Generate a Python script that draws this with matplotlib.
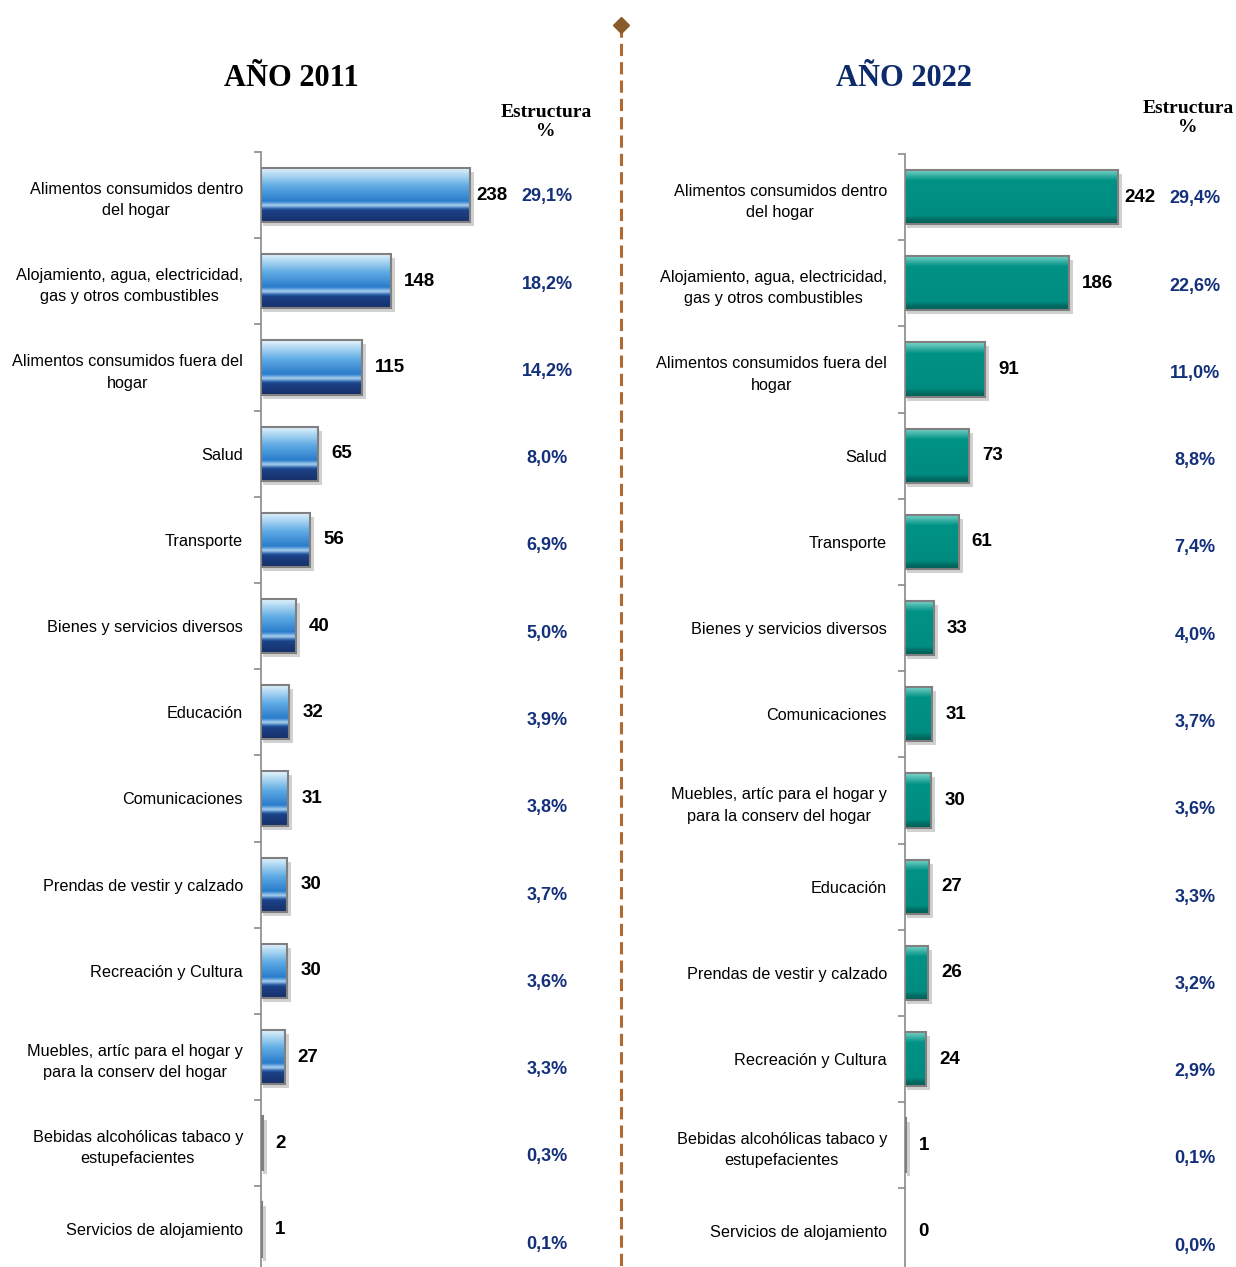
import numpy as np
import matplotlib.pyplot as plt
from matplotlib.patches import Rectangle
from matplotlib.lines import Line2D
from matplotlib.colors import LinearSegmentedColormap
import matplotlib.transforms as mtransforms

plt.rcParams['font.family'] = ['Liberation Sans', 'DejaVu Sans']

cats_2011 = ['Alimentos consumidos dentro\ndel hogar',
             'Alojamiento, agua, electricidad,\ngas y otros combustibles',
             'Alimentos consumidos fuera del\nhogar',
             'Salud', 'Transporte', 'Bienes y servicios diversos',
             'Educación', 'Comunicaciones', 'Prendas de vestir y calzado',
             'Recreación y Cultura',
             'Muebles, artíc para el hogar y\npara la conserv del hogar',
             'Bebidas alcohólicas tabaco y\nestupefacientes',
             'Servicios de alojamiento']
vals_2011 = [238, 148, 115, 65, 56, 40, 32, 31, 30, 30, 27, 2, 1]
pct_2011 = ['29,1%', '18,2%', '14,2%', '8,0%', '6,9%', '5,0%', '3,9%',
            '3,8%', '3,7%', '3,6%', '3,3%', '0,3%', '0,1%']

cats_2022 = ['Alimentos consumidos dentro\ndel hogar',
             'Alojamiento, agua, electricidad,\ngas y otros combustibles',
             'Alimentos consumidos fuera del\nhogar',
             'Salud', 'Transporte', 'Bienes y servicios diversos',
             'Comunicaciones',
             'Muebles, artíc para el hogar y\npara la conserv del hogar',
             'Educación', 'Prendas de vestir y calzado',
             'Recreación y Cultura',
             'Bebidas alcohólicas tabaco y\nestupefacientes',
             'Servicios de alojamiento']
vals_2022 = [242, 186, 91, 73, 61, 33, 31, 30, 27, 26, 24, 1, 0]
pct_2022 = ['29,4%', '22,6%', '11,0%', '8,8%', '7,4%', '4,0%', '3,7%',
            '3,6%', '3,3%', '3,2%', '2,9%', '0,1%', '0,0%']

W, H = 1236, 1267
PX_PER_UNIT = 0.88
STEP = 86.2
NAVY = '#14307a'

blue_cm = LinearSegmentedColormap.from_list('blue', [
    (0.0, '#e8f5fd'), (0.12, '#b4dbf4'), (0.35, '#5eaae4'), (0.62, '#2a7dcb'),
    (0.70, '#a8d0ef'), (0.76, '#2c62a8'), (0.80, '#1b4186'), (1.0, '#17306a')])
teal_cm = LinearSegmentedColormap.from_list('teal', [
    (0.0, '#7dd6cc'), (0.12, '#33aca0'), (0.2, '#009286'),
    (0.85, '#008c80'), (0.92, '#007067'), (1.0, '#005c54')])

fig = plt.figure(figsize=(W / 100, H / 100), dpi=100)


def draw_panel(left_px, top_px, width_px, cats, vals, pcts, cmap, pct_x_px):
    n = len(cats)
    height_px = n * STEP
    ax = fig.add_axes([left_px / W, 1 - (top_px + height_px) / H,
                       width_px / W, height_px / H])
    xmax = width_px / PX_PER_UNIT
    h = 0.63
    grad = np.linspace(0, 1, 64).reshape(-1, 1)
    dx = 4 / PX_PER_UNIT
    dy = 4 / STEP
    for i, v in enumerate(vals):
        off = 6 if v == max(vals) else 13
        ax.annotate(str(v), (v, i), xytext=(off / 100 * 72, 0),
                    textcoords='offset points', ha='left', va='center',
                    fontsize=13.5, fontweight='bold', color='black')
        if v <= 0:
            continue
        # shadow
        ax.add_patch(Rectangle((dx * 0.6, i - h / 2 + dy), v + dx * 0.4, h,
                               facecolor='#000000', alpha=0.18, lw=0, zorder=1))
        ax.imshow(grad, cmap=cmap, extent=(0, v, i + h / 2, i - h / 2),
                  aspect='auto', interpolation='bilinear', zorder=2)
        ax.add_patch(Rectangle((0, i - h / 2), v, h, facecolor='none',
                               edgecolor='#808080', lw=1.5, zorder=3))
    trans = mtransforms.blended_transform_factory(fig.transFigure, ax.transData)
    for i, p in enumerate(pcts):
        ax.text(pct_x_px / W, i + 0.0125 * i + 0.02, p, transform=trans,
                ha='center', va='center', fontsize=13, fontweight='bold',
                color=NAVY)
    ax.set_xlim(0, xmax)
    ax.set_ylim(n - 0.5, -0.5)
    ax.set_yticks(range(n))
    ax.set_yticklabels(cats, fontsize=11.7)
    for lab in ax.get_yticklabels():
        lab.set_multialignment('center')
        lab.set_linespacing(1.55)
    ax.set_yticks(np.arange(-0.5, n, 1), minor=True)
    ax.tick_params(axis='y', which='major', length=0, pad=13)
    ax.tick_params(axis='y', which='minor', length=5, color='#8a8a8a',
                   width=1.2)
    ax.set_xticks([])
    for s in ['top', 'right', 'bottom']:
        ax.spines[s].set_visible(False)
    ax.spines['left'].set_color('#8a8a8a')
    ax.spines['left'].set_linewidth(1.2)
    return ax


draw_panel(261, 152, 340, cats_2011, vals_2011, pct_2011, blue_cm, 547)
draw_panel(905, 154, 300, cats_2022, vals_2022, pct_2022, teal_cm, 1195)

serif = ['Liberation Serif', 'DejaVu Serif']
fig.text(291 / W, 1 - 78 / H, 'AÑO 2011', ha='center', va='center',
         fontsize=22, fontweight='bold', family=serif, color='black')
fig.text(904 / W, 1 - 78 / H, 'AÑO 2022', ha='center', va='center',
         fontsize=22, fontweight='bold', family=serif, color='#0d2b6b')
fig.text(546 / W, 1 - 122 / H, 'Estructura\n%', ha='center', va='center',
         fontsize=14, fontweight='bold', family=serif, linespacing=1.1)
fig.text(1188 / W, 1 - 118 / H, 'Estructura\n%', ha='center', va='center',
         fontsize=14, fontweight='bold', family=serif, linespacing=1.1)

# divider
fig.add_artist(Line2D([621 / W, 621 / W], [1 - 25 / H, 0], color='#b06a30',
                      lw=2.2, ls=(0, (4, 2))))
fig.add_artist(Line2D([621 / W], [1 - 25 / H], marker='D', markersize=8,
                      color='#8a5a2b', lw=0))

fig.savefig('out.png', dpi=100)
